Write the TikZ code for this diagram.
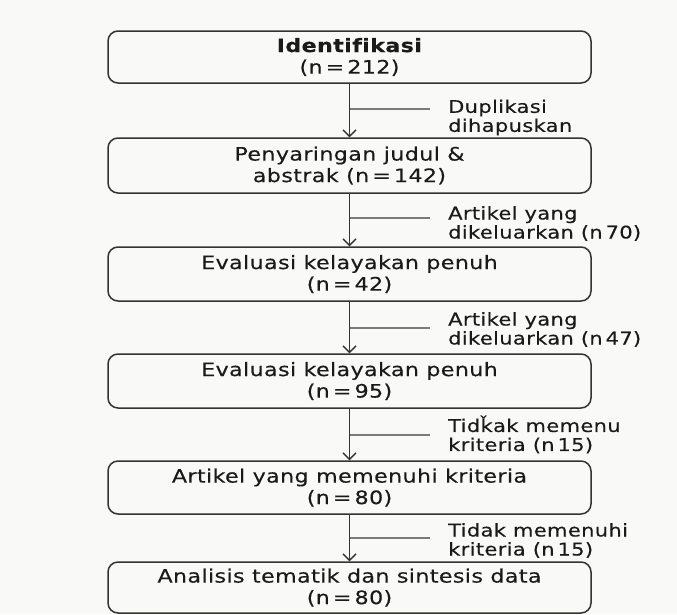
\documentclass[tikz,border=0pt]{standalone}
\usepackage{fontspec}
\setmainfont{DejaVu Sans}[FakeStretch=1.2,LetterSpace=2,FakeBold=0.3,Ligatures=NoCommon]
\usetikzlibrary{arrows.meta}
\definecolor{bg}{HTML}{F9F9F7}
\definecolor{ink}{HTML}{1A1A1A}
\definecolor{edge}{HTML}{333333}
\definecolor{side}{HTML}{7A7A7A}
\begin{document}
\begin{tikzpicture}[x=1pt,y=-1pt,
  stepbox/.style={draw=edge,line width=1.5pt,rounded corners=10pt,minimum width=483pt,
    align=center,text=ink,font=\fontsize{18.5}{21.5}\selectfont,inner sep=0pt},
  flow/.style={draw=edge,line width=1.5pt,-{Straight Barb[length=6.5pt,width=13pt,line width=1.4pt]}},
  sideline/.style={draw=side,line width=1.3pt},
  note/.style={anchor=west,align=left,text=ink,font=\fontsize{17.5}{19}\selectfont,inner sep=0pt}]
\fill[bg] (0,0) rectangle (677,614);
\useasboundingbox (0,0) rectangle (677,614);
\node[stepbox,minimum height=52pt] (b1) at (349.5,57) {\textbf{Identifikasi}\\(n\,=\,212)};
\node[stepbox,minimum height=55pt] (b2) at (349.5,165.5) {Penyaringan judul \&\\abstrak (n\,=\,142)};
\node[stepbox,minimum height=54pt] (b3) at (349.5,274) {Evaluasi kelayakan penuh\\(n\,=\,42)};
\node[stepbox,minimum height=54pt] (b4) at (349.5,381) {Evaluasi kelayakan penuh\\(n\,=\,95)};
\node[stepbox,minimum height=53pt] (b5) at (349.5,487.5) {Artikel yang memenuhi kriteria\\(n\,=\,80)};
\node[stepbox,minimum height=51pt] (b6) at (349.5,587.5) {Analisis tematik dan sintesis data\\(n\,=\,80)};
\foreach \a/\b in {b1/b2,b2/b3,b3/b4,b4/b5,b5/b6}{\draw[flow] (\a.south) -- (\b.north);}
\coordinate (s1) at (430,109); \coordinate (s2) at (430,218); \coordinate (s3) at (430,328);
\coordinate (s4) at (430,435); \coordinate (s5) at (430,538);
\draw[sideline] (s1 -| b1.south) -- (s1);
\draw[sideline] (s2 -| b2.south) -- (s2);
\draw[sideline] (s3 -| b3.south) -- (s3);
\draw[sideline] (s4 -| b4.south) -- (s4);
\draw[sideline] (s5 -| b5.south) -- (s5);
\node[note] (l1) at (448,117.5) {Duplikasi\\dihapuskan};
\node[note] (l2) at (448,223.5) {Artikel yang\\dikeluarkan (n\,70)};
\node[note] (l3) at (448,329.5) {Artikel yang\\dikeluarkan (n\,47)};
\node[note] (l4) at (448,434.5) {Tidǩak memenu\\kriteria (n\,15)};
\node[note] (l5) at (448,540.5) {Tidak memenuhi\\kriteria (n\,15)};
\end{tikzpicture}
\end{document}
